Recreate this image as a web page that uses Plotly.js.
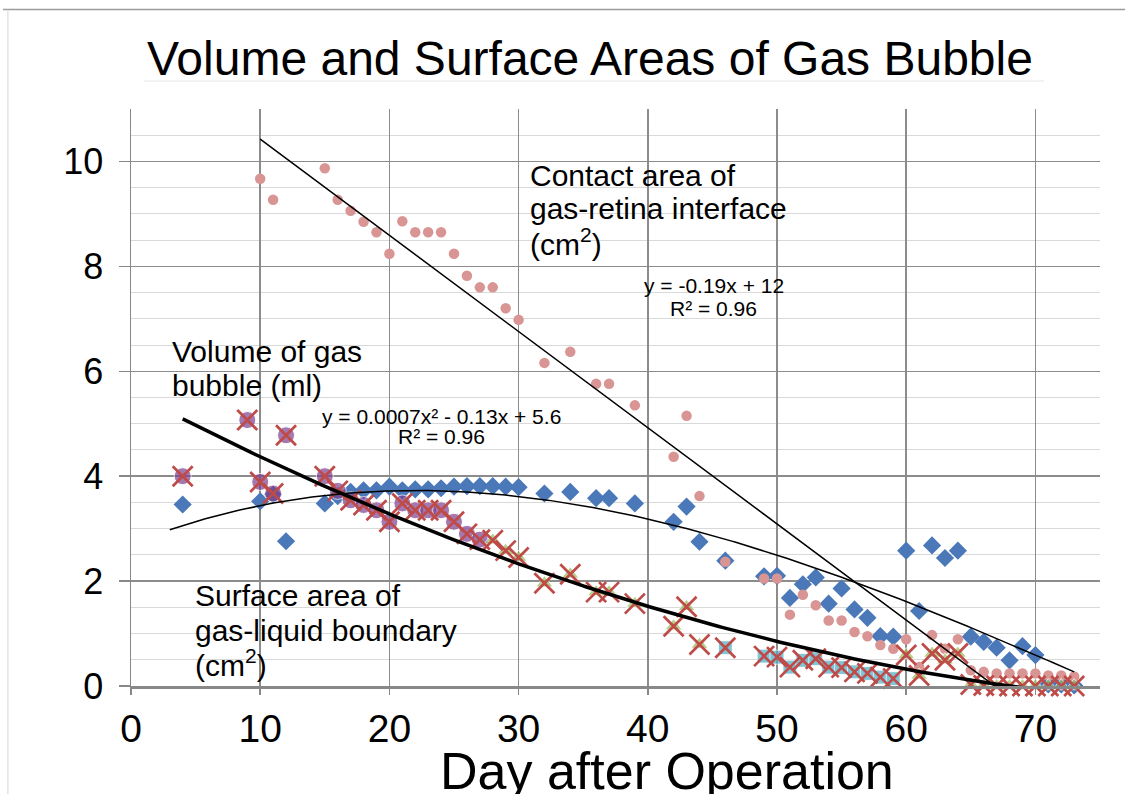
<!DOCTYPE html>
<html><head><meta charset="utf-8">
<script src="https://cdn.plot.ly/plotly-3.0.1.min.js"></script>
<style>html,body{margin:0;padding:0;background:#fff}#chart{width:1125px;height:794px}</style>
</head><body><div id="chart"></div>
<script>
// ---- data ----
const surfaceDays = [4, 10, 11, 12, 15, 16, 17, 18, 19, 20, 21, 22, 23, 24, 25, 26, 27, 28, 29, 30, 32, 34, 36, 37, 39, 42, 43, 44, 46, 49, 50, 51, 52, 53, 54, 55, 56, 57, 58, 59, 60, 61, 62, 63, 64, 65, 66, 67, 68, 69, 70, 71, 72, 73];
const surfaceValues = [3.46, 3.52, 3.65, 2.76, 3.48, 3.62, 3.70, 3.73, 3.73, 3.80, 3.73, 3.75, 3.75, 3.77, 3.80, 3.81, 3.81, 3.81, 3.80, 3.79, 3.67, 3.70, 3.58, 3.58, 3.48, 3.13, 3.42, 2.75, 2.39, 2.09, 2.10, 1.68, 1.94, 2.07, 1.57, 1.86, 1.46, 1.30, 0.95, 0.94, 2.58, 1.43, 2.68, 2.44, 2.58, 0.94, 0.84, 0.73, 0.49, 0.76, 0.59, 0.03, 0.03, 0.01];

const contactDays = [10, 11, 15, 16, 17, 18, 19, 20, 21, 22, 23, 24, 25, 26, 27, 28, 29, 30, 32, 34, 36, 37, 39, 42, 43, 44, 46, 49, 50, 51, 52, 53, 54, 55, 56, 57, 58, 59, 60, 61, 62, 63, 64, 65, 66, 67, 68, 69, 70, 71, 72, 73];
const contactValues = [9.67, 9.27, 9.87, 9.27, 9.06, 8.85, 8.65, 8.24, 8.86, 8.65, 8.65, 8.65, 8.24, 7.82, 7.60, 7.60, 7.20, 6.98, 6.16, 6.37, 5.76, 5.76, 5.35, 4.37, 5.15, 3.62, 2.37, 2.05, 2.05, 1.36, 1.74, 1.54, 1.25, 1.25, 1.03, 0.95, 0.78, 0.71, 0.89, 0.36, 0.97, 0.71, 0.89, 0.30, 0.27, 0.24, 0.24, 0.24, 0.24, 0.20, 0.20, 0.18];

const volumeDays = [4, 9, 10, 11, 12, 15, 16, 17, 18, 19, 20, 21, 22, 23, 24, 25, 26, 27, 28, 29, 30, 32, 34, 36, 37, 39, 42, 43, 44, 46, 49, 50, 51, 52, 53, 54, 55, 56, 57, 58, 59, 60, 61, 62, 63, 64, 65, 66, 67, 68, 69, 70, 71, 72, 73];
const volumeValues = [4.00, 5.07, 3.89, 3.67, 4.78, 4.00, 3.72, 3.54, 3.45, 3.35, 3.13, 3.48, 3.35, 3.35, 3.35, 3.13, 2.90, 2.79, 2.78, 2.58, 2.45, 1.96, 2.13, 1.79, 1.79, 1.57, 1.14, 1.51, 0.79, 0.73, 0.57, 0.55, 0.36, 0.49, 0.52, 0.36, 0.35, 0.27, 0.24, 0.17, 0.14, 0.59, 0.20, 0.62, 0.49, 0.62, 0.03, 0.01, 0.00, 0.00, 0.00, 0.00, 0.00, 0.00, 0.00];
// underlying marker group of each volume point: c = circle, t = triangle, s = square
const volumeMarkerGroup = ['c','c','c','c','c','c','c','c','c','c','c','c','c','c','c','c','c','c','t','t','t','t','t','t','t','t','t','t','t','s','s','s','s','s','s','s','s','s','s','s','s','t','t','t','t','t','t','t','t','t','t','t','t','t','t'];

// trendline coefficients (constant, x, x^2, x^3)
const contactFitCoef = [12.26, -0.1834];
const volumeFitCoef = [5.6, -0.13, 0.0007];
const surfaceFitCoef = [2.710, 0.09757, -0.002565, 0.000010553];
const surfaceFitStart = [3];

const xTickValues = [0, 10, 20, 30, 40, 50, 60, 70];
const yTickValues = [0, 2, 4, 6, 8, 10];

// ---- build ----
const FONT = 'Liberation Sans, Arial, sans-serif';
function poly(coef, x) { return coef.reduce((s, c, i) => s + c * Math.pow(x, i), 0); }
function curve(coef, x0, x1) {
  const xs = [], ys = [];
  for (let x = x0; x <= x1 + 1e-9; x += 0.25) { xs.push(x); ys.push(poly(coef, x)); }
  return {xs, ys};
}
const groupSymbol = {c: 'circle', t: 'triangle-up', s: 'square'};
const groupColor = {c: '#7E3F8F', t: '#9BBB59', s: '#4BACC6'};
const groupSize = {c: 17, t: 15, s: 14};

const cFit = curve(contactFitCoef, Math.min(...contactDays), Math.max(...contactDays));
const vFit = curve(volumeFitCoef, Math.min(...volumeDays), Math.max(...volumeDays));
const sFit = curve(surfaceFitCoef, surfaceFitStart[0], Math.max(...surfaceDays));

const traces = [
  {x: surfaceDays, y: surfaceValues, type: 'scatter', mode: 'markers', cliponaxis: false,
   name: 'Surface area of gas-liquid boundary (cm²)',
   marker: {symbol: 'diamond', size: 14, color: '#4A78B8'}},
  {x: contactDays, y: contactValues, type: 'scatter', mode: 'markers', cliponaxis: false,
   name: 'Contact area of gas-retina interface (cm²)',
   marker: {symbol: 'circle', size: 10.5, color: '#D99594'}},
  {x: volumeDays, y: volumeValues, type: 'scatter', mode: 'markers', cliponaxis: false,
   name: 'Volume of gas bubble (ml)',
   marker: {symbol: volumeMarkerGroup.map(g => groupSymbol[g]),
            size: volumeMarkerGroup.map(g => groupSize[g]),
            color: volumeMarkerGroup.map(g => groupColor[g])}},
  {x: volumeDays, y: volumeValues, type: 'scatter', mode: 'markers', cliponaxis: false,
   name: 'Volume of gas bubble (ml)',
   marker: {symbol: 'x-thin', size: 20, color: '#BE4B48', line: {width: 2.7, color: '#BE4B48'}}},
  {x: cFit.xs, y: cFit.ys, type: 'scatter', mode: 'lines', line: {color: '#000', width: 1.5}},
  {x: sFit.xs, y: sFit.ys, type: 'scatter', mode: 'lines', line: {color: '#000', width: 1.5}},
  {x: vFit.xs, y: vFit.ys, type: 'scatter', mode: 'lines', line: {color: '#000', width: 3.5}}
];

function lbl(text, x, y, size, xanchor) {
  return {text, x, y, xref: 'x', yref: 'y', showarrow: false, xanchor: xanchor, yanchor: 'middle',
          align: xanchor === 'left' ? 'left' : 'center',
          font: {family: FONT, size: size, color: '#000'}};
}

const annotations = [
  lbl('Contact area of', 30.7, 9.74, 30, 'left'),
  lbl('gas-retina interface', 30.7, 9.10, 30, 'left'),
  lbl('(cm<sup>2</sup>)', 30.7, 8.46, 30, 'left'),
  lbl('Volume of gas', 3.0, 6.37, 30, 'left'),
  lbl('bubble (ml)', 3.0, 5.73, 30, 'left'),
  lbl('Surface area of', 4.8, 1.73, 30, 'left'),
  lbl('gas-liquid boundary', 4.8, 1.06, 30, 'left'),
  lbl('(cm<sup>2</sup>)', 4.8, 0.43, 30, 'left'),
  lbl('y = -0.19x + 12', 45.1, 7.64, 21, 'center'),
  lbl('R² = 0.96', 45.1, 7.20, 21, 'center'),
  lbl('y = 0.0007x² - 0.13x + 5.6', 24.0, 5.13, 21, 'center'),
  lbl('R² = 0.96', 24.0, 4.75, 21, 'center'),
  {text: 'Day after Operation', x: 0.553, y: -0.148, xref: 'paper', yref: 'paper', showarrow: false,
   xanchor: 'center', yanchor: 'middle', font: {family: FONT, size: 52, color: '#000'}}
];

const layout = {
  width: 1125, height: 794,
  margin: {l: 131, r: 25, t: 109, b: 108, pad: 0},
  paper_bgcolor: '#fff', plot_bgcolor: '#fff',
  showlegend: false,
  title: {text: 'Volume and Surface Areas of Gas Bubble', x: 0.5244, xref: 'container', xanchor: 'center',
          y: 0.927, yref: 'container', yanchor: 'middle', font: {family: FONT, size: 48, color: '#000'}},
  xaxis: {range: [0, 75], tickvals: xTickValues, ticktext: xTickValues.map(String),
          showgrid: true, gridcolor: '#8c8c8c', gridwidth: 1.5,
          showline: true, linecolor: '#888', linewidth: 2.5,
          ticks: 'outside', ticklen: 6, tickcolor: '#888', tickwidth: 1.5,
          ticklabelstandoff: 1,
          tickfont: {family: FONT, size: 39, color: '#000'}, zeroline: false, fixedrange: true},
  yaxis: {range: [0, 11], tickvals: yTickValues, ticktext: yTickValues.map(String),
          showgrid: true, gridcolor: '#8c8c8c', gridwidth: 1.5,
          minor: {dtick: 0.5, tick0: 0, showgrid: true, gridcolor: '#d9d9d9', gridwidth: 1, ticks: ''},
          showline: true, linecolor: '#888', linewidth: 1.5,
          ticks: 'outside', ticklen: 11, tickcolor: '#888', tickwidth: 1.5,
          ticklabelstandoff: 8,
          tickfont: {family: FONT, size: 36, color: '#000'}, zeroline: false, fixedrange: true},
  annotations: annotations,
  shapes: [
    {type: 'line', xref: 'paper', yref: 'paper', x0: -0.132, x1: 1.03, y0: 1.1724, y1: 1.1724,
     line: {color: '#9a9a9a', width: 1.5}},
    {type: 'line', xref: 'paper', yref: 'paper', x0: -0.127, x1: -0.127, y0: -0.2, y1: 1.1724,
     line: {color: '#d6d6d6', width: 1}},
    {type: 'line', xref: 'paper', yref: 'paper', x0: 0.0134, x1: 0.9422, y0: 1.0485, y1: 1.0485,
     line: {color: '#e6e6e6', width: 1}}
  ]
};

Plotly.newPlot('chart', traces, layout, {staticPlot: true, displayModeBar: false});
</script>
</body></html>
